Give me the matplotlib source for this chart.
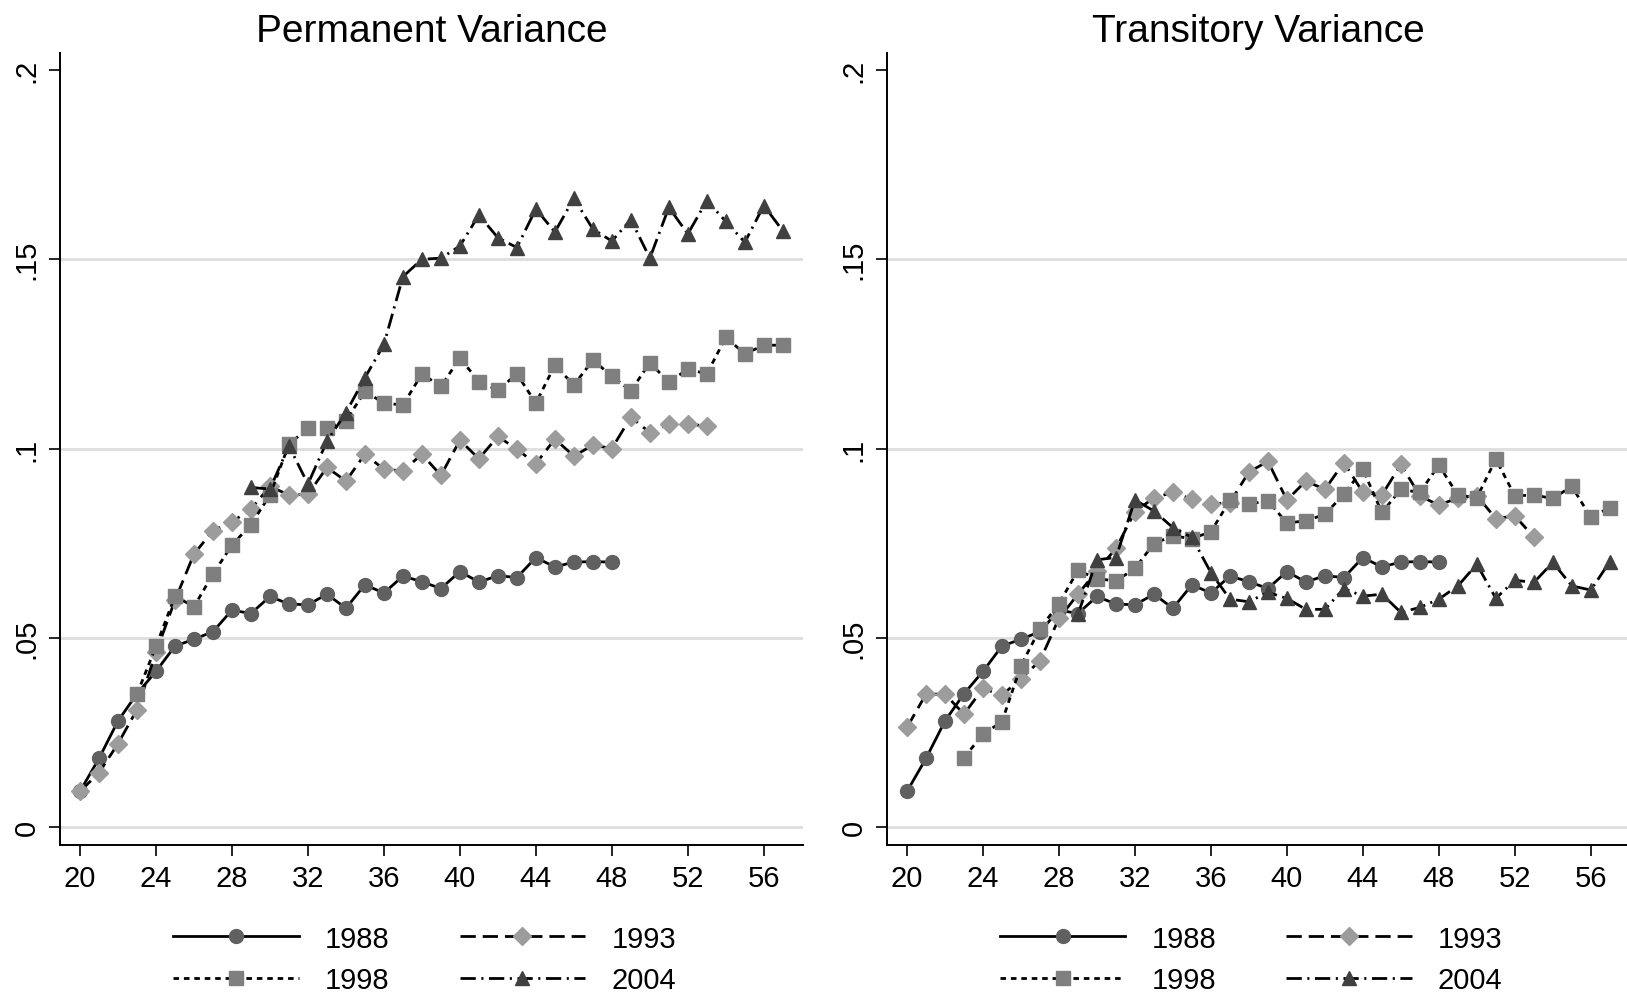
import matplotlib
matplotlib.use("Agg")
import matplotlib.pyplot as plt

plt.rcParams['font.family'] = ['Liberation Sans', 'DejaVu Sans']
plt.rcParams['lines.scale_dashes'] = False

# ages
age88 = list(range(20, 49))
age93 = list(range(20, 54))
age98 = list(range(23, 58))
age04 = list(range(29, 58))

# permanent variance
perm88 = [0.0094, 0.0181, 0.0280, 0.0352, 0.0411, 0.0478, 0.0496, 0.0516, 0.0573, 0.0564,
          0.0609, 0.0589, 0.0587, 0.0615, 0.0578, 0.0640, 0.0618, 0.0663, 0.0648, 0.0630,
          0.0675, 0.0647, 0.0664, 0.0659, 0.0712, 0.0687, 0.0700, 0.0701, 0.0700]
perm93 = [0.0094, 0.0143, 0.0220, 0.0310, 0.0461, 0.0599, 0.0721, 0.0783, 0.0806, 0.0840,
          0.0900, 0.0877, 0.0879, 0.0950, 0.0914, 0.0985, 0.0945, 0.0941, 0.0985, 0.0929,
          0.1022, 0.0973, 0.1032, 0.0998, 0.0960, 0.1025, 0.0980, 0.1009, 0.1000, 0.1083,
          0.1042, 0.1064, 0.1064, 0.1060]
perm98 = [0.0351, 0.0477, 0.0610, 0.0582, 0.0668, 0.0745, 0.0799,
          0.0877, 0.1011, 0.1054, 0.1054, 0.1073, 0.1151, 0.1120, 0.1115, 0.1197, 0.1164,
          0.1239, 0.1177, 0.1154, 0.1197, 0.1120, 0.1220, 0.1168, 0.1233, 0.1192, 0.1152,
          0.1227, 0.1175, 0.1210, 0.1197, 0.1294, 0.1250, 0.1273, 0.1273]
perm04 = [0.0897,
          0.0893, 0.1007, 0.0906, 0.1019, 0.1095, 0.1187, 0.1275, 0.1454, 0.1500, 0.1503,
          0.1535, 0.1617, 0.1557, 0.1531, 0.1633, 0.1572, 0.1661, 0.1580, 0.1548, 0.1605,
          0.1503, 0.1637, 0.1567, 0.1655, 0.1600, 0.1545, 0.1642, 0.1575]

# transitory variance
tran88 = list(perm88)
tran93 = [0.0263, 0.0351, 0.0351, 0.0298, 0.0366, 0.0348, 0.0392, 0.0439, 0.0551, 0.0615,
          0.0677, 0.0736, 0.0833, 0.0870, 0.0884, 0.0866, 0.0853, 0.0857, 0.0938, 0.0966,
          0.0864, 0.0914, 0.0892, 0.0963, 0.0884, 0.0877, 0.0958, 0.0875, 0.0850, 0.0870,
          0.0875, 0.0815, 0.0822, 0.0766]
tran98 = [0.0183, 0.0245, 0.0278, 0.0426, 0.0524, 0.0590, 0.0678,
          0.0656, 0.0650, 0.0683, 0.0749, 0.0769, 0.0762, 0.0780, 0.0863, 0.0853, 0.0862,
          0.0803, 0.0809, 0.0826, 0.0879, 0.0945, 0.0831, 0.0892, 0.0884, 0.0956, 0.0877,
          0.0870, 0.0972, 0.0875, 0.0877, 0.0868, 0.0900, 0.0818, 0.0844]
tran04 = [0.0562,
          0.0706, 0.0712, 0.0864, 0.0835, 0.0791, 0.0765, 0.0672, 0.0602, 0.0595, 0.0620,
          0.0604, 0.0575, 0.0575, 0.0630, 0.0610, 0.0615, 0.0567, 0.0580, 0.0602, 0.0637,
          0.0694, 0.0604, 0.0652, 0.0646, 0.0699, 0.0637, 0.0626, 0.0701]

xticks = [20, 24, 28, 32, 36, 40, 44, 48, 52, 56]
yticks = [0, 0.05, 0.1, 0.15, 0.2]
ylabels = ["0", ".05", ".1", ".15", ".2"]

styles = {
    "1988": dict(marker="o", ms=10, mfc="#606060", ls="-"),
    "1993": dict(marker="D", ms=9, mfc="#9c9c9c", ls=(0, (11, 5))),
    "1998": dict(marker="s", ms=10.5, mfc="#7f7f7f", ls=(0, (4, 3.5))),
    "2004": dict(marker="^", ms=10.5, mfc="#404040", ls=(0, (11, 4, 1.5, 4))),
}

fig = plt.figure(figsize=(16.27, 9.95), dpi=100)
ax1 = fig.add_axes([0.0369, 0.150, 0.4565, 0.7957])
ax2 = fig.add_axes([0.5452, 0.150, 0.4565, 0.7957])

panels = [
    (ax1, "Permanent Variance", [perm88, perm93, perm98, perm04], 0.261),
    (ax2, "Transitory Variance", [tran88, tran93, tran98, tran04], 0.769),
]
ages = [age88, age93, age98, age04]
names = ["1988", "1993", "1998", "2004"]

for ax, title, series, lx in panels:
    handles = {}
    for nm, a, v in zip(names, ages, series):
        st = styles[nm]
        h, = ax.plot(a, v, color="black", lw=2.0, linestyle=st["ls"],
                     marker=st["marker"], markersize=st["ms"],
                     markerfacecolor=st["mfc"], markeredgecolor=st["mfc"],
                     label=nm, zorder=3)
        handles[nm] = h
    for yv in [0, 0.05, 0.1, 0.15]:
        ax.axhline(yv, color="#dedede", lw=2, zorder=1)
    ax.set_xlim(18.95, 58.05)
    ax.set_ylim(-0.0047, 0.2045)
    ax.set_xticks(xticks)
    ax.set_yticks(yticks)
    ax.set_yticklabels(ylabels, rotation=90, va="center")
    ax.tick_params(axis="both", length=8, width=1.2, labelsize=21, pad=6)
    for s in ["top", "right"]:
        ax.spines[s].set_visible(False)
    for s in ["left", "bottom"]:
        ax.spines[s].set_linewidth(1.4)
    ax.set_title(title, fontsize=28, pad=9)
    order = ["1988", "1998", "1993", "2004"]
    ax.legend([handles[k] for k in order], order, ncol=2, loc="center",
              bbox_to_anchor=(lx, 0.035), bbox_transform=fig.transFigure,
              frameon=False, fontsize=21, handlelength=4.3, handletextpad=0.9,
              columnspacing=2.4, labelspacing=0.45)

fig.savefig("out.png", dpi=100)
